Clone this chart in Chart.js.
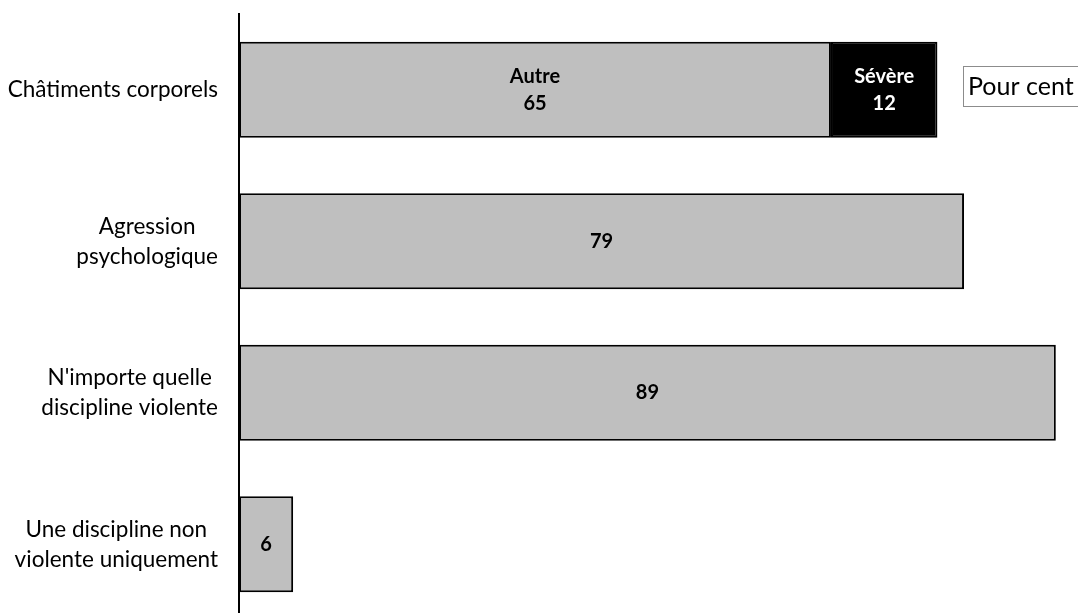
<!DOCTYPE html>
<html>
<head>
<meta charset="utf-8">
<script src="https://cdn.jsdelivr.net/npm/chart.js@4"></script>
<style>
  html, body { margin: 0; padding: 0; background: #fff; overflow: hidden; }
  #wrap { width: 1078px; height: 620px; }
</style>
</head>
<body>
<div id="wrap"><canvas id="graphCanvas" width="1078" height="620"></canvas></div>
<script>
// categories (one label per row, lines split by \n)
const categories = [
    "Châtiments corporels",
    "Agression\npsychologique",
    "N'importe quelle\ndiscipline violente",
    "Une discipline non\nviolente uniquement"
];

// series values, in per cent
const autreValues = [64.5, 79, 89, 5.9];
const severeValues = [11.6, null, null, null];

// texts shown inside the bars
const autreNames = ["Autre", "", "", ""];
const severeNames = ["Sévère", "", "", ""];
const autreShown = [65, 79, 89, 6];
const severeShown = [12, null, null, null];

const unitLabel = "Pour cent";

const FONT = "Lato, 'Open Sans', sans-serif";

// draws the category labels left of the axis: right aligned block, lines centred
const categoryLabels = {
    id: "categoryLabels",
    afterDraw(chart) {
        const ctx = chart.ctx;
        const yScale = chart.scales.y;
        ctx.save();
        ctx.font = "22.5px " + FONT;
        ctx.fillStyle = "#000";
        ctx.textAlign = "center";
        ctx.textBaseline = "middle";
        const right = 218;
        const lineH = 30;
        categories.forEach((cat, i) => {
            const lines = cat.split("\n");
            const w = Math.max(...lines.map(l => ctx.measureText(l).width));
            const cx = right - w / 2;
            const cy = yScale.getPixelForValue(i);
            lines.forEach((l, j) => {
                ctx.fillText(l, cx, cy + (j - (lines.length - 1) / 2) * lineH);
            });
        });
        ctx.restore();
    }
};

// values inside the bars
const barLabels = {
    id: "barLabels",
    afterDatasetsDraw(chart) {
        const ctx = chart.ctx;
        ctx.save();
        ctx.font = "bold 20px " + FONT;
        ctx.textAlign = "center";
        ctx.textBaseline = "middle";
        const sets = [
            { names: autreNames, shown: autreShown, color: "#000" },
            { names: severeNames, shown: severeShown, color: "#fff" }
        ];
        sets.forEach((s, d) => {
            const meta = chart.getDatasetMeta(d);
            meta.data.forEach((el, i) => {
                if (s.shown[i] == null) return;
                const cx = (el.x + el.base) / 2;
                ctx.fillStyle = s.color;
                if (s.names[i]) {
                    ctx.fillText(s.names[i], cx, el.y - 13);
                    ctx.fillText(String(s.shown[i]), cx, el.y + 14);
                } else {
                    ctx.fillText(String(s.shown[i]), cx, el.y);
                }
            });
        });
        ctx.restore();
    }
};

// small "Pour cent" box at the right
const unitBox = {
    id: "unitBox",
    afterDraw(chart) {
        const ctx = chart.ctx;
        ctx.save();
        ctx.strokeStyle = "#8c8c8c";
        ctx.lineWidth = 1;
        ctx.strokeRect(963.5, 66.5, 130, 40);
        ctx.font = "25px " + FONT;
        ctx.fillStyle = "#000";
        ctx.textBaseline = "middle";
        ctx.textAlign = "left";
        ctx.fillText(unitLabel, 968, 87);
        ctx.restore();
    }
};

const ctx = document.getElementById("graphCanvas").getContext("2d");
const chart = new Chart(ctx, {
    type: "bar",
    data: {
        labels: categories,
        datasets: [
            {
                label: "Autre",
                data: autreValues,
                backgroundColor: "#bfbfbf",
                borderColor: "#000",
                borderWidth: 2,
                borderSkipped: false,
                barPercentage: 0.635,
                categoryPercentage: 1
            },
            {
                label: "Sévère",
                data: severeValues,
                backgroundColor: "#000",
                borderColor: "#000",
                borderWidth: 2,
                borderSkipped: false,
                barPercentage: 0.635,
                categoryPercentage: 1
            }
        ]
    },
    options: {
        indexAxis: "y",
        responsive: false,
        animation: false,
        layout: { padding: { top: 14, right: 13, bottom: 0, left: 0 } },
        plugins: {
            legend: { display: false },
            tooltip: { enabled: false }
        },
        scales: {
            x: {
                stacked: true,
                min: 0,
                max: 90,
                display: false
            },
            y: {
                stacked: true,
                grid: { display: false, drawTicks: false },
                border: { display: true, color: "#000", width: 2 },
                ticks: { display: false },
                afterFit(scale) { scale.width = 239; }
            }
        }
    },
    plugins: [categoryLabels, barLabels, unitBox]
});
</script>
</body>
</html>
